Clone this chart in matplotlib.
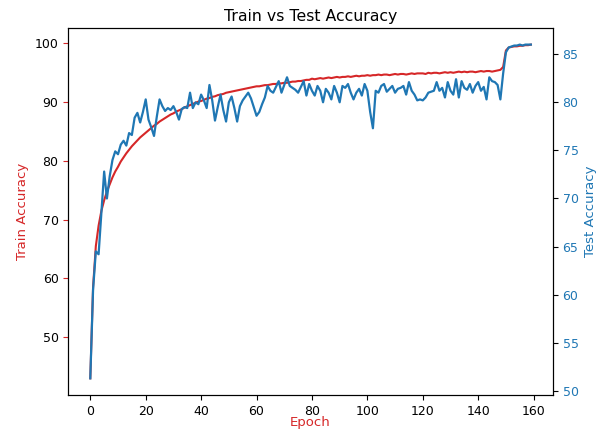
import matplotlib
matplotlib.use("Agg")
import matplotlib.pyplot as plt

# Accuracy per epoch
epochs = list(range(160))

train_acc = [
    43.0, 58.5, 65.5, 69.0, 71.5, 73.3, 74.8, 76.0, 77.2, 78.2,
    79.0, 79.9, 80.6, 81.3, 81.9, 82.5, 83.0, 83.5, 84.0, 84.4,
    84.8, 85.2, 85.6, 86.0, 86.3, 86.7, 87.0, 87.3, 87.6, 87.9,
    88.1, 88.4, 88.6, 88.8, 89.1, 89.3, 89.5, 89.7, 89.9, 90.1,
    90.2, 90.4, 90.6, 90.7, 90.9, 91.0, 91.2, 91.3, 91.4, 91.6,
    91.7, 91.8, 91.9, 92.0, 92.1, 92.2, 92.3, 92.4, 92.5, 92.6,
    92.7, 92.7, 92.8, 92.9, 92.9, 93.0, 93.1, 93.1, 93.2, 93.2,
    93.3, 93.3, 93.4, 93.5, 93.5, 93.6, 93.6, 93.7, 93.8, 93.8,
    94.0, 93.9, 94.0, 94.1, 94.0, 94.1, 94.2, 94.1, 94.2, 94.3,
    94.2, 94.3, 94.3, 94.4, 94.3, 94.4, 94.5, 94.4, 94.5, 94.5,
    94.6, 94.5, 94.6, 94.6, 94.7, 94.6, 94.7, 94.7, 94.6, 94.7,
    94.8, 94.7, 94.8, 94.8, 94.7, 94.8, 94.9, 94.8, 94.9, 94.9,
    94.9, 94.8, 95.0, 94.9, 95.0, 95.0, 94.9, 95.0, 95.1, 95.0,
    95.1, 95.0, 95.1, 95.2, 95.1, 95.2, 95.1, 95.2, 95.2, 95.1,
    95.2, 95.3, 95.2, 95.3, 95.3, 95.2, 95.3, 95.4, 95.5, 96.0,
    98.8, 99.3, 99.4, 99.5, 99.5, 99.6, 99.6, 99.7, 99.7, 99.8,
]

test_acc = [
    51.3, 60.5, 64.5, 64.2, 68.5, 72.8, 70.0, 72.3, 74.0, 74.9,
    74.6, 75.6, 76.0, 75.5, 76.8, 76.6, 78.4, 78.9, 77.9, 79.0,
    80.3, 78.2, 77.4, 76.5, 78.5, 80.3, 79.6, 79.1, 79.4, 79.2,
    79.6, 79.0, 78.2, 79.3, 79.5, 79.4, 81.0, 79.4, 80.0, 79.8,
    80.8, 80.2, 79.4, 81.8, 80.2, 78.1, 79.5, 80.8, 79.2, 78.0,
    80.0, 80.6, 79.4, 78.0, 79.6, 80.2, 80.6, 81.0, 80.4, 79.5,
    78.6, 79.0, 79.8, 80.5, 81.7, 81.2, 81.0, 81.6, 82.2, 81.0,
    81.8, 82.6, 81.7, 81.5, 81.3, 81.0, 81.6, 82.2, 80.7, 81.9,
    81.2, 80.7, 81.7, 81.2, 80.0, 81.4, 81.0, 80.3, 81.7, 81.0,
    80.0, 81.7, 81.5, 81.9, 81.0, 80.3, 81.0, 81.4, 80.7, 81.9,
    81.2, 79.0, 77.3, 81.2, 81.0, 81.7, 81.9, 81.1, 81.4, 81.7,
    81.0, 81.4, 81.5, 81.7, 80.8, 82.1, 81.2, 80.8, 80.2, 80.3,
    80.2, 80.5, 81.0, 81.1, 81.2, 82.1, 81.2, 81.5, 80.5, 82.1,
    81.2, 80.8, 82.4, 80.5, 82.2, 81.5, 81.3, 81.9, 81.0, 81.7,
    82.1, 81.2, 81.6, 80.3, 82.6, 82.2, 82.1, 81.8, 80.3, 83.0,
    85.2, 85.7, 85.8, 85.9, 85.9, 86.0, 85.9, 86.0, 86.0, 86.0,
]


def main():
    # The reference is a scaled-down screenshot, so text is a bit smaller
    plt.rcParams["font.size"] = 9
    plt.rcParams["axes.labelsize"] = 9.5

    fig, ax1 = plt.subplots(figsize=(6.15, 4.36), dpi=100)
    fig.subplots_adjust(left=0.111, right=0.899, top=0.936, bottom=0.094)

    # Train accuracy on the left axis
    ax1.plot(epochs, train_acc, color="tab:red", linewidth=1.5)
    ax1.set_xlabel("Epoch", color="tab:red", labelpad=-1)
    ax1.set_ylabel("Train Accuracy", color="tab:red")
    ax1.tick_params(axis="y", color="tab:red")

    # Test accuracy on a second y axis
    ax2 = ax1.twinx()
    ax2.plot(epochs, test_acc, color="tab:blue", linewidth=1.6)
    ax2.set_ylabel("Test Accuracy", color="tab:blue")
    ax2.tick_params(axis="y", labelcolor="tab:blue")

    ax1.set_title("Train vs Test Accuracy", fontsize=11.3, pad=5)
    fig.savefig("out.png")


main()
